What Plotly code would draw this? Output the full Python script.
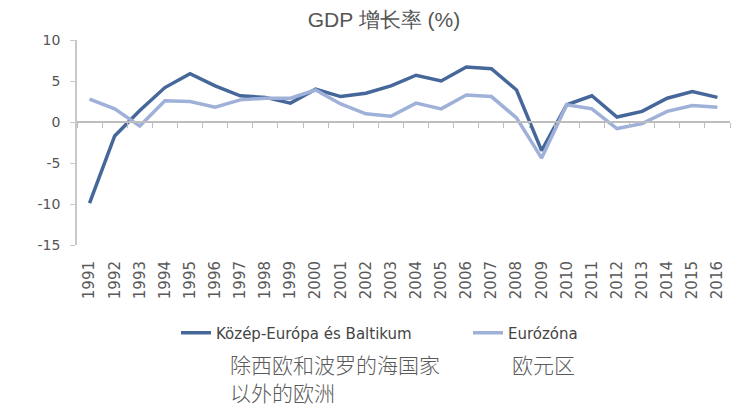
import plotly.graph_objects as go

years = [str(y) for y in range(1991, 2017)]
cee = [-9.9, -1.7, 1.4, 4.2, 5.9, 4.4, 3.2, 3.0, 2.3, 4.0, 3.1, 3.5, 4.4, 5.7, 5.0, 6.7, 6.5, 3.9, -3.5, 2.1, 3.2, 0.6, 1.3, 2.9, 3.7, 3.0]
ez = [2.8, 1.6, -0.5, 2.6, 2.5, 1.8, 2.7, 2.9, 2.9, 3.9, 2.2, 1.0, 0.7, 2.3, 1.6, 3.3, 3.1, 0.5, -4.4, 2.1, 1.6, -0.8, -0.2, 1.3, 2.0, 1.8]
y_ticks = [10, 5, 0, -5, -10, -15]
y_tick_text = ["10", "5", "0", "-5", "-10", "-15"]
name_cee = "Közép-Európa és Baltikum"
name_ez = "Eurózóna"
title = "GDP 增长率 (%)"
cn_cee_1 = "除西欧和波罗的海国家"
cn_cee_2 = "以外的欧洲"
cn_ez = "欧元区"

dark = "#46679a"
light = "#9fb1d8"

W, H = 748, 409
L, R, T, B = 77, 18, 40, 164
pw, ph = W - L - R, H - T - B

def px(xp):
    return (xp - L) / pw

def py(yp):
    return (H - B - yp) / ph

fig = go.Figure()
fig.add_trace(go.Scatter(x=years, y=cee, mode="lines", name=name_cee,
                         line=dict(color=dark, width=3.5), legend="legend"))
fig.add_trace(go.Scatter(x=years, y=ez, mode="lines", name=name_ez,
                         line=dict(color=light, width=3.5), legend="legend2"))
# invisible trace to render the zero-crossing category axis
fig.add_trace(go.Scatter(x=years, y=[0] * len(years), xaxis="x2", mode="lines",
                         line=dict(width=0), showlegend=False, hoverinfo="skip"))

cjk = dict(family="Noto Sans CJK SC", size=21, color="#5a5a5a", weight=300)
ann = []
for txt, xp, yp in [(cn_cee_1, 228, 364), (cn_cee_2, 228, 392), (cn_ez, 510, 364)]:
    ann.append(dict(text=txt, xref="paper", yref="paper", x=px(xp), y=py(yp),
                    xanchor="left", yanchor="middle", showarrow=False, font=cjk))

fig.update_layout(
    width=W, height=H,
    margin=dict(l=L, r=R, t=T, b=B),
    paper_bgcolor="white", plot_bgcolor="white",
    title=dict(text=title, x=px(384), xanchor="center", xref="paper",
               y=1 - 20 / H, yanchor="middle",
               font=dict(family="Liberation Sans, Arial", size=21, color="#555")),
    xaxis=dict(type="category", showline=False, ticks="", showgrid=False, zeroline=False,
               tickangle=-90, ticklabelstandoff=12,
               tickfont=dict(family="DejaVu Sans", size=15, color="#5a5a5a"),
               range=[-0.5, len(years) - 0.5]),
    xaxis2=dict(type="category", overlaying="x", matches="x", anchor="free", position=0.6,
                showline=True, linecolor="#bdbdbd", linewidth=2, ticks="outside",
                tickson="boundaries", ticklen=5, tickcolor="#bdbdbd", tickwidth=1,
                showticklabels=False, showgrid=False, zeroline=False),
    yaxis=dict(range=[-15, 10], tickvals=y_ticks, ticktext=y_tick_text,
               showgrid=False, zeroline=False,
               showline=True, linecolor="#c8c8c8", linewidth=1.5, ticks="outside",
               ticklen=5, tickcolor="#c8c8c8", ticklabelstandoff=7,
               tickfont=dict(family="DejaVu Sans", size=14, color="#555")),
    legend=dict(x=px(176), y=py(333), xanchor="left", yanchor="middle", orientation="h",
                font=dict(family="DejaVu Sans", size=15, color="#444"),
                bgcolor="rgba(0,0,0,0)"),
    legend2=dict(x=px(468), y=py(333), xanchor="left", yanchor="middle", orientation="h",
                 font=dict(family="DejaVu Sans", size=15, color="#444"),
                 bgcolor="rgba(0,0,0,0)"),
    annotations=ann,
)

fig.write_html("out.html", config={"displayModeBar": False},
               post_script="document.body.style.margin='0';")
